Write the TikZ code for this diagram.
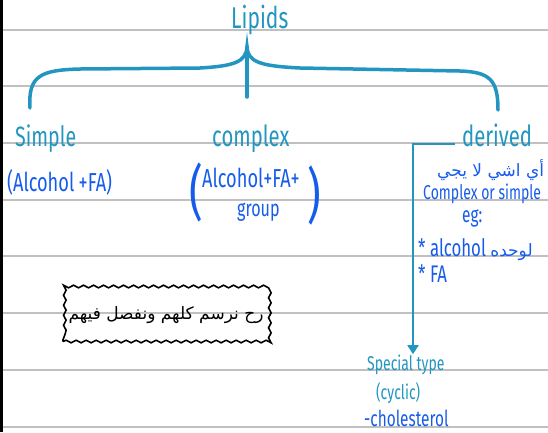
\documentclass[tikz,border=0pt]{standalone}
\usepackage{fontspec}
\setmainfont{Fira Sans}[FakeStretch=0.7]
\newfontfamily\arabicfont[Script=Arabic]{DejaVu Sans}
\TeXXeTstate=1
\usetikzlibrary{decorations.pathmorphing,arrows.meta}

\definecolor{headteal}{RGB}{34,150,192}
\definecolor{penblue}{RGB}{22,92,236}
\definecolor{paperline}{RGB}{192,192,192}

\newcommand{\handsize}[1]{\fontsize{#1}{#1}\selectfont}

\begin{document}
\begin{tikzpicture}[x=1pt,y=-1pt,
  head/.style={color=headteal, inner sep=0pt, anchor=base west},
  pen/.style={color=penblue, inner sep=0pt, anchor=base west},
  brace/.style={color=headteal, line width=3.5pt, line cap=round},
  link/.style={color=headteal, line width=1.8pt, -{Triangle[width=11pt,length=9pt]}},
  wavybox/.style={draw, line width=1.6pt, decorate,
    decoration={snake, amplitude=1.3pt, segment length=10pt},
    minimum width=206pt, minimum height=53pt, inner sep=0pt}]
  \useasboundingbox (0,0) rectangle (548,432);
  \clip (0,0) rectangle (548,432);
  \fill[white] (0,0) rectangle (548,432);

  % ruled paper
  \foreach \y in {30,86,143,200,256,313,370,427}
    \draw[paperline, line width=1.2pt] (3,\y) -- (548,\y);
  \fill[black] (0,0) rectangle (2.6,432);

  % top of the tree
  \node[head, font=\handsize{30}] (lipids) at (231,28) {Lipids};
  \coordinate (tip) at (247,47);
  \coordinate (stem) at (247,97);
  \coordinate (leftend) at (30,108);
  \coordinate (rightend) at (498,110);
  \draw[brace] (leftend) .. controls (28,76) and (40,70) .. (80,69) -- (200,68)
    .. controls (234,66) and (246,62) .. (tip)
    .. controls (248,62) and (260,66) .. (300,68) -- (460,71)
    .. controls (490,72) and (498,80) .. (rightend);
  \draw[brace] (tip) -- (stem);

  % three kinds
  \node[head, font=\handsize{28}] (simple) at (15,146) {Simple};
  \node[head, font=\handsize{29}] (complex) at (212,146) {complex};
  \node[head, font=\handsize{29}] (derived) at (462,146) {derived};

  \node[pen, font=\handsize{26}] (simplefa) at (7,191) {(Alcohol\,+FA)};
  \node[pen, font=\handsize{60}] (lpar) at (189,213) {(};
  \node[pen, font=\handsize{26}] (complexfa) at (202,187) {Alcohol+FA+};
  \node[pen, font=\handsize{60}] (rpar) at (307,216) {)};
  \node[pen, font=\handsize{23}] (group) at (237,216) {group};

  % derived branch
  \node[pen, font=\handsize{17}] (notboth) at (437,176)
    {\arabicfont\beginR أي اشي لا يجي\endR};
  \node[pen, font=\handsize{20}] (orsimple) at (423,199) {Complex or simple};
  \node[pen, font=\handsize{22}] (eg) at (462,222) {eg:};
  \node[pen, font=\handsize{24}] (alcohol) at (418,256)
    {* alcohol {\arabicfont\handsize{17}\beginR لوحده\endR}};
  \node[pen, font=\handsize{24}] (fa) at (418,282) {* FA};

  \node[head, font=\handsize{20}] (special) at (367,370) {Special type};
  \node[head, font=\handsize{20}] (cyclic) at (376,399) {(cyclic)};
  \node[pen, font=\handsize{22}] (chol) at (364,426) {-cholesterol};

  \coordinate (fork) at (413,144);
  \draw[link] (derived.base west) ++(-7,-2) -- (fork) -- (fork |- special.north);

  % side note
  \node[wavybox] (remark) at (166,315)
    {\arabicfont\handsize{17}\beginR رح نرسم كلهم ونفصل فيهم\endR};
\end{tikzpicture}
\end{document}
